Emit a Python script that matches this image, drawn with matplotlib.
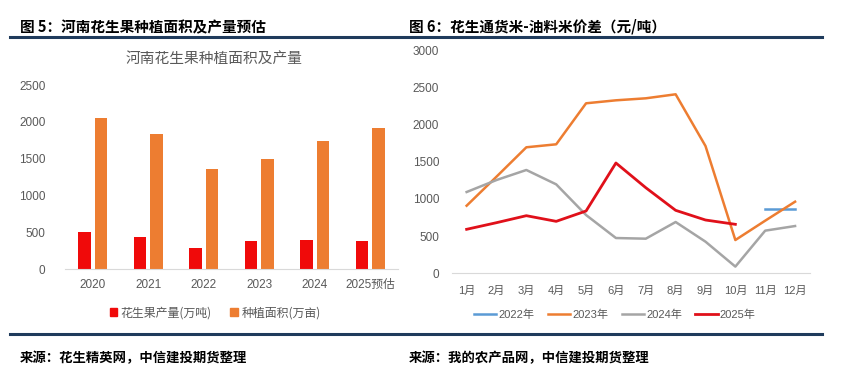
import matplotlib
matplotlib.use("Agg")
import matplotlib.pyplot as plt
from matplotlib.lines import Line2D
from matplotlib.patches import Patch
import numpy as np

plt.rcParams['font.family'] = ['Liberation Sans', 'Noto Sans CJK SC', 'DejaVu Sans']

# ---- data: left chart ----
years = ['2020', '2021', '2022', '2023', '2024', '2025预估']
production = [510, 438, 289, 384, 394, 384]      # 花生果产量(万吨)
area = [2050, 1837, 1366, 1502, 1746, 1922]      # 种植面积(万亩)
left_yticks = [0, 500, 1000, 1500, 2000, 2500]

# ---- data: right chart ----
months = ['1月', '2月', '3月', '4月', '5月', '6月', '7月', '8月', '9月', '10月', '11月', '12月']
s2022 = [None, None, None, None, None, None, None, None, None, None, 860, 860]
s2023 = [908, 1298, 1693, 1733, 2284, 2324, 2351, 2405, 1710, 447, 707, 962]
s2024 = [1092, 1253, 1388, 1195, 783, 474, 465, 689, 425, 90, 573, 635]
s2025 = [591, 680, 774, 698, 837, 1482, 1150, 846, 716, 658, None, None]
right_yticks = [0, 500, 1000, 1500, 2000, 2500, 3000]

W, H = 841, 376
fig = plt.figure(figsize=(W / 100, H / 100), dpi=100)

def fx(px):
    return px / W

def fy(py):
    return 1 - py / H

tick_color = '#595959'
cjk = ['Noto Sans CJK SC', 'DejaVu Sans']

# ---- header / footer ----
fig.text(fx(20), fy(27), '图 5：河南花生果种植面积及产量预估', family=cjk, weight='bold',
         fontsize=10.5, color='black', va='center', ha='left')
fig.text(fx(409), fy(27), '图 6：花生通货米-油料米价差（元/吨）', family=cjk, weight='bold',
         fontsize=10.5, color='black', va='center', ha='left')
fig.add_artist(Line2D([fx(10), fx(822)], [fy(36.5), fy(36.5)], color='#1F3B5C', lw=2.2))
fig.add_artist(Line2D([fx(10), fx(822)], [fy(333.5), fy(333.5)], color='#1F3B5C', lw=2.2))
fig.text(fx(20), fy(358), '来源：花生精英网，中信建投期货整理', family=cjk, weight='bold',
         fontsize=9.6, color='black', va='center', ha='left', style='italic')
fig.text(fx(409), fy(358), '来源：我的农产品网，中信建投期货整理', family=cjk, weight='bold',
         fontsize=9.6, color='black', va='center', ha='left', style='italic')

# ---- left chart ----
axL = fig.add_axes([fx(65), fy(269.3), fx(398 - 65), (269.3 - 85) / H])
x = np.arange(len(years))
bw = 0.225
axL.bar(x - 0.15, production, width=bw, color='#F00A0A', label='花生果产量(万吨)')
axL.bar(x + 0.15, area, width=bw, color='#ED7D31', label='种植面积(万亩)')
axL.set_xlim(-0.5, len(years) - 0.5)
axL.set_ylim(0, 2500)
axL.set_yticks(left_yticks)
axL.set_xticks(x)
axL.set_xticklabels(years)
for s in ['top', 'right', 'left']:
    axL.spines[s].set_visible(False)
axL.spines['bottom'].set_color('#D9D9D9')
axL.tick_params(axis='y', length=0, pad=14, labelsize=8.5, labelcolor=tick_color)
axL.tick_params(axis='x', length=0, pad=7, labelsize=8.5, labelcolor=tick_color)
for lab in axL.get_xticklabels():
    lab.set_family(['Liberation Sans', 'Noto Sans CJK SC'])
fig.text(fx(214), fy(59), '河南花生果种植面积及产量', family=cjk, fontsize=10.6,
         color='#595959', ha='center', va='center')
handles = [Patch(color='#F00A0A'), Patch(color='#ED7D31')]
fig.legend(handles, ['花生果产量(万吨)', '种植面积(万亩)'], loc='center',
           bbox_to_anchor=(fx(215), fy(313)), ncol=2, frameon=False,
           prop={'family': cjk, 'size': 8.6}, labelcolor=tick_color,
           handlelength=0.6, handleheight=0.6, handletextpad=0.3, columnspacing=1.6)

# ---- right chart ----
axR = fig.add_axes([fx(451.7), fy(273.3), fx(810 - 451.7), (273.3 - 50) / H])
mx = np.arange(len(months))

def arr(v):
    return np.array([np.nan if a is None else a for a in v], dtype=float)

axR.plot(mx, arr(s2022), color='#5B9BD5', lw=1.8, label='2022年')
axR.plot(mx, arr(s2023), color='#ED7D31', lw=1.8, label='2023年')
axR.plot(mx, arr(s2024), color='#A5A5A5', lw=1.8, label='2024年')
axR.plot(mx, arr(s2025), color='#E0101A', lw=2.0, label='2025年')
axR.set_xlim(-0.5, len(months) - 0.5)
axR.set_ylim(0, 3000)
axR.set_yticks(right_yticks)
axR.set_xticks(mx)
axR.set_xticklabels(months)
for s in ['top', 'right', 'left']:
    axR.spines[s].set_visible(False)
axR.spines['bottom'].set_color('#D9D9D9')
axR.tick_params(axis='y', length=0, pad=9, labelsize=8.5, labelcolor=tick_color)
axR.tick_params(axis='x', length=0, pad=9, labelsize=8, labelcolor=tick_color)
for lab in axR.get_xticklabels():
    lab.set_family(['Liberation Sans', 'Noto Sans CJK SC'])
fig.legend(*axR.get_legend_handles_labels(), loc='center',
           bbox_to_anchor=(fx(615), fy(315)), ncol=4, frameon=False,
           prop={'family': ['Liberation Sans', 'Noto Sans CJK SC'], 'size': 8},
           labelcolor=tick_color, handlelength=2.0, handletextpad=0.2, columnspacing=1.2)

fig.savefig('out.png', dpi=100, facecolor='white')
